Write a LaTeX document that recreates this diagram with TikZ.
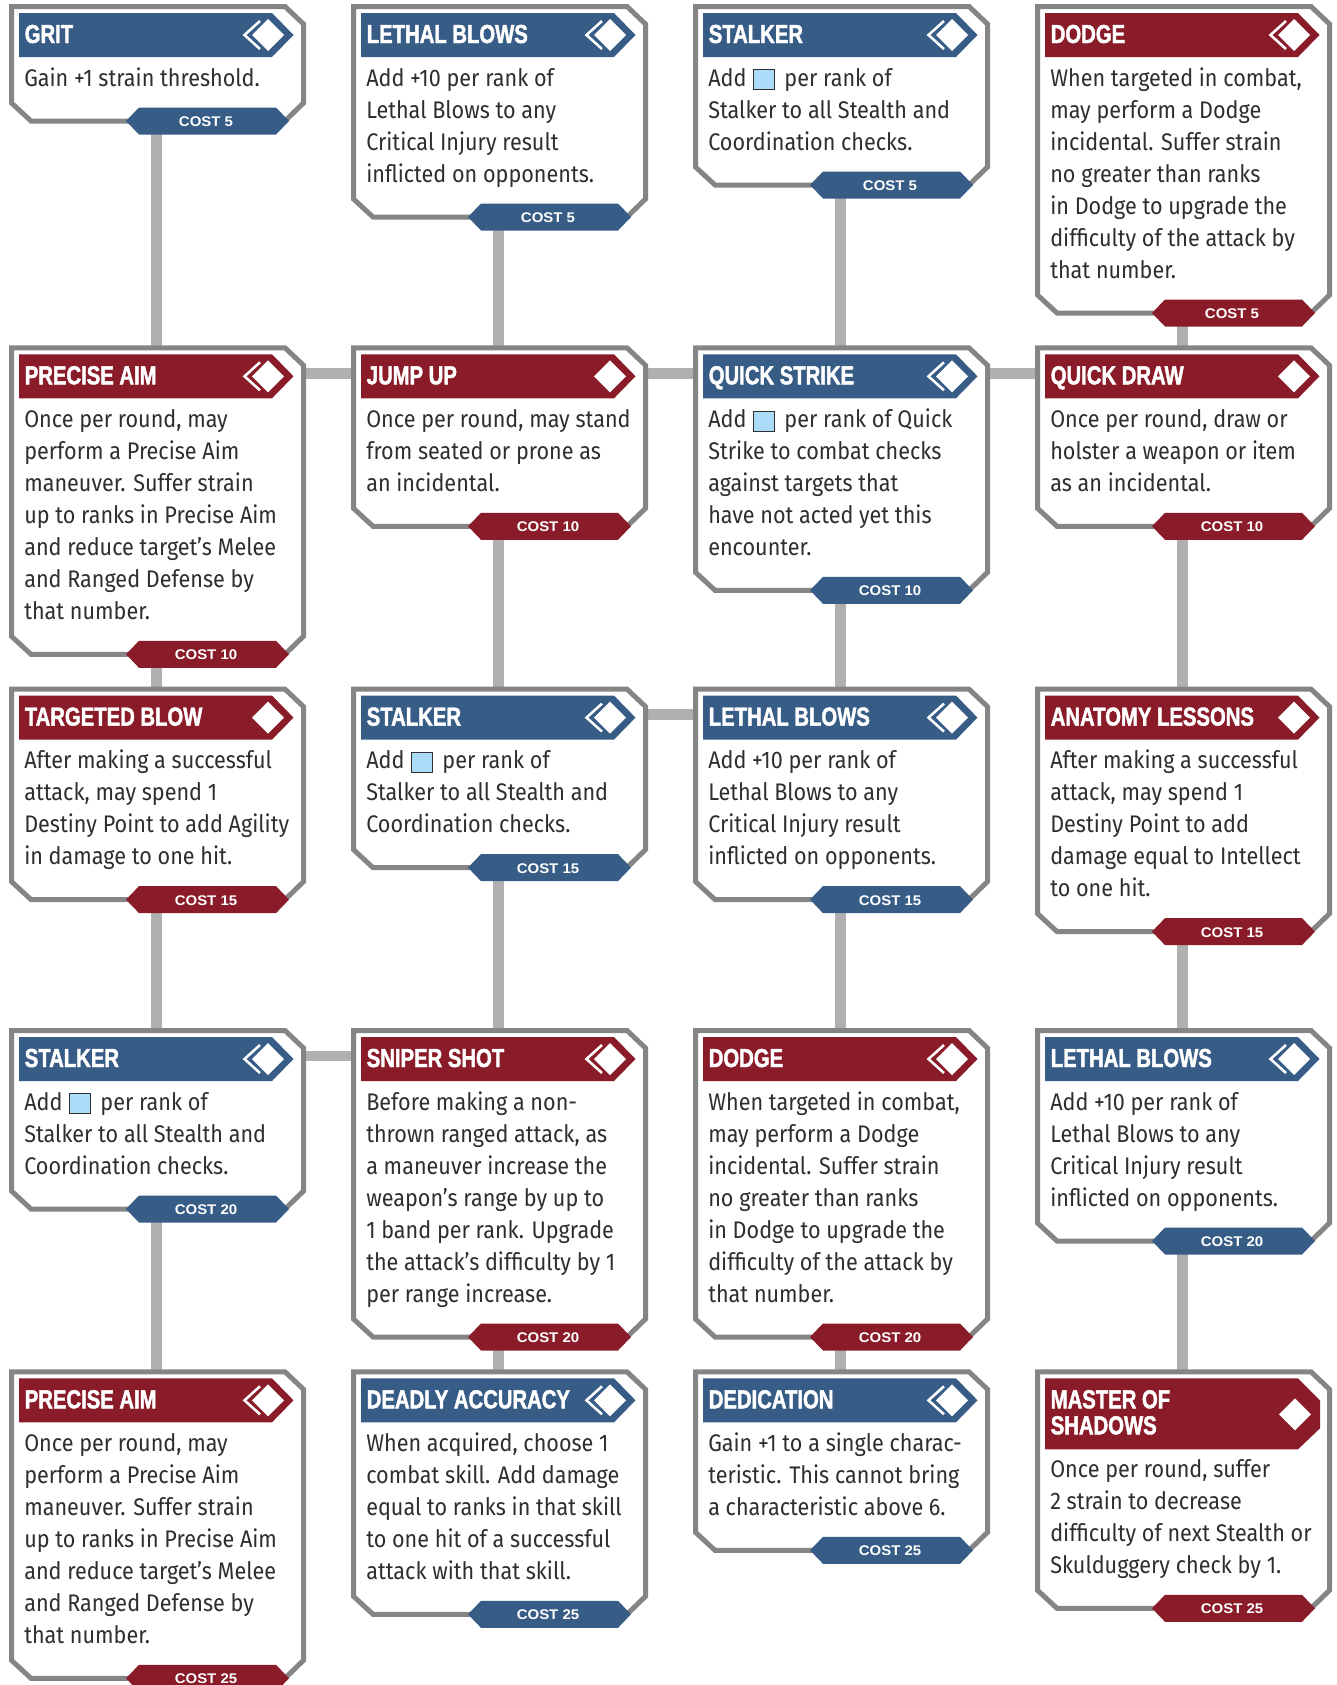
\documentclass[tikz,border=0pt]{standalone}
\usepackage{fontspec}
\usepackage{xcolor}
\usetikzlibrary{backgrounds}
\newfontfamily\bodyfont[FakeStretch=0.9]{Fira Sans}
\newfontfamily\titlefont[FakeStretch=0.78,FakeBold=1.6]{Liberation Sans}
\newfontfamily\costfont[FakeStretch=1.07]{Liberation Sans}
\definecolor{cblue}{HTML}{375C86}
\definecolor{cred}{HTML}{8A1C2A}
\definecolor{cborder}{HTML}{858585}
\definecolor{clink}{HTML}{B0B0B0}
\definecolor{ctext}{HTML}{2E2E2E}
\definecolor{cdie}{HTML}{AADCF8}
\tikzset{
  cardshape/.style={draw=cborder,fill=white,line width=3.75pt,line join=miter},
  linkline/.style={draw=clink,line width=8pt},
  titletext/.style={anchor=base west,inner sep=0pt,text=white,font=\titlefont\bfseries\fontsize{19.5}{19.5}\selectfont},
  bodytext/.style={anchor=base west,inner sep=0pt,text=ctext},
  costtext/.style={anchor=base,inner sep=0pt,text=white,font=\costfont\bfseries\fontsize{10.5}{12}\selectfont},
  hub/.style={inner sep=0pt,minimum size=0pt}
}
\newcommand{\diebox}{\hspace{4.8pt}{\fboxsep=0pt\fboxrule=.75pt\raisebox{-2.4pt}{\fcolorbox{ctext}{cdie}{\textcolor{cdie}{\rule{15pt}{14.25pt}}}}}\hspace{7.2pt}}
\newcommand{\bodylines}[1]{\bodyfont\fontsize{18}{24}\selectfont\begin{tabular}[t]{@{}l@{}}#1\end{tabular}}
% name, col x, row y, height, header colour, chevron(1/0), banner colour, cost, title; then body
\newcommand{\card}[9]{%
 \begin{scope}[shift={(#2,#3)}]
  \node[hub] (#1) at (147.5,28) {};
  \path[cardshape] (2.5,2.5) -- (276,2.5) -- (294.5,20) -- (294.5,#4-18) -- (276,#4) -- (22,#4) -- (2.5,#4-18) -- cycle;
  \fill[#5] (10,9) -- (263,9) -- (284.5,31) -- (263,53) -- (10,53) -- cycle;
  \fill[white] (259,15) -- (275,31) -- (259,47) -- (243,31) -- cycle;
  \ifnum#6=1
   \draw[white,line width=1.9pt] (251,17) -- (235.5,31) -- (251,45);
  \fi
  \node[titletext] (#1-title) at (15.5,39) {#9};
  \fill[#7] (117,#4) -- (130,#4-13.5) -- (267,#4-13.5) -- (280,#4) -- (267,#4+13.5) -- (130,#4+13.5) -- cycle;
  \node[costtext] (#1-cost) at (197,#4+5.5) {#8};
  \cardbody{#1}}
\newcommand{\cardbody}[2]{\node[bodytext] (#1-body) at (15,82) {\bodylines{#2}};
 \end{scope}}
\begin{document}
\begin{tikzpicture}[x=0.75pt,y=-0.75pt]
\useasboundingbox (0,0) rectangle (1336,1685);
% row 1
\card{a1}{9}{4}{117}{cblue}{1}{cblue}{COST 5}{GRIT}{Gain +1 strain threshold.}
\card{b1}{351}{4}{213}{cblue}{1}{cblue}{COST 5}{LETHAL BLOWS}{Add +10 per rank of\\Lethal Blows to any\\Critical Injury result\\inflicted on opponents.}
\card{c1}{693}{4}{181}{cblue}{1}{cblue}{COST 5}{STALKER}{Add\diebox per rank of\\Stalker to all Stealth and\\Coordination checks.}
\card{d1}{1035}{4}{309}{cred}{1}{cred}{COST 5}{DODGE}{When targeted in combat,\\may perform a Dodge\\incidental. Suffer strain\\no greater than ranks\\in Dodge to upgrade the\\difficulty of the attack by\\that number.}
% row 2
\card{a2}{9}{345.3}{309}{cred}{1}{cred}{COST 10}{PRECISE AIM}{Once per round, may\\perform a Precise Aim\\maneuver. Suffer strain\\up to ranks in Precise Aim\\and reduce target’s Melee\\and Ranged Defense by\\that number.}
\card{b2}{351}{345.3}{181}{cred}{0}{cred}{COST 10}{JUMP UP}{Once per round, may stand\\from seated or prone as\\an incidental.}
\card{c2}{693}{345.3}{245}{cblue}{1}{cblue}{COST 10}{QUICK STRIKE}{Add\diebox per rank of Quick\\Strike to combat checks\\against targets that\\have not acted yet this\\encounter.}
\card{d2}{1035}{345.3}{181}{cred}{0}{cred}{COST 10}{QUICK DRAW}{Once per round, draw or\\holster a weapon or item\\as an incidental.}
% row 3
\card{a3}{9}{686.6}{213}{cred}{0}{cred}{COST 15}{TARGETED BLOW}{After making a successful\\attack, may spend 1\\Destiny Point to add Agility\\in damage to one hit.}
\card{b3}{351}{686.6}{181}{cblue}{1}{cblue}{COST 15}{STALKER}{Add\diebox per rank of\\Stalker to all Stealth and\\Coordination checks.}
\card{c3}{693}{686.6}{213}{cblue}{1}{cblue}{COST 15}{LETHAL BLOWS}{Add +10 per rank of\\Lethal Blows to any\\Critical Injury result\\inflicted on opponents.}
\card{d3}{1035}{686.6}{245}{cred}{0}{cred}{COST 15}{ANATOMY LESSONS}{After making a successful\\attack, may spend 1\\Destiny Point to add\\damage equal to Intellect\\to one hit.}
% row 4
\card{a4}{9}{1028}{181}{cblue}{1}{cblue}{COST 20}{STALKER}{Add\diebox per rank of\\Stalker to all Stealth and\\Coordination checks.}
\card{b4}{351}{1028}{309}{cred}{1}{cred}{COST 20}{SNIPER SHOT}{Before making a non-\\thrown ranged attack, as\\a maneuver increase the\\weapon’s range by up to\\1 band per rank. Upgrade\\the attack’s difficulty by 1\\per range increase.}
\card{c4}{693}{1028}{309}{cred}{1}{cred}{COST 20}{DODGE}{When targeted in combat,\\may perform a Dodge\\incidental. Suffer strain\\no greater than ranks\\in Dodge to upgrade the\\difficulty of the attack by\\that number.}
\card{d4}{1035}{1028}{213}{cblue}{1}{cblue}{COST 20}{LETHAL BLOWS}{Add +10 per rank of\\Lethal Blows to any\\Critical Injury result\\inflicted on opponents.}
% row 5
\card{a5}{9}{1369.3}{309}{cred}{1}{cred}{COST 25}{PRECISE AIM}{Once per round, may\\perform a Precise Aim\\maneuver. Suffer strain\\up to ranks in Precise Aim\\and reduce target’s Melee\\and Ranged Defense by\\that number.}
\card{b5}{351}{1369.3}{245}{cblue}{1}{cblue}{COST 25}{DEADLY ACCURACY}{When acquired, choose 1\\combat skill. Add damage\\equal to ranks in that skill\\to one hit of a successful\\attack with that skill.}
\card{c5}{693}{1369.3}{181}{cblue}{1}{cblue}{COST 25}{DEDICATION}{Gain +1 to a single charac-\\teristic. This cannot bring\\a characteristic above 6.}
% Master of Shadows: taller header
\begin{scope}[shift={(1035,1369.3)}]
  \node[hub] (d5) at (147.5,28) {};
  \path[cardshape] (2.5,2.5) -- (276,2.5) -- (294.5,20) -- (294.5,239-18) -- (276,239) -- (22,239) -- (2.5,239-18) -- cycle;
  \fill[cred] (10,9) -- (263,9) -- (285,31) -- (285,59) -- (263,80) -- (10,80) -- cycle;
  \fill[white] (260,29) -- (276,45) -- (260,61) -- (244,45) -- cycle;
  \node[titletext] (d5-title) at (15.5,39) {MASTER OF};
  \node[titletext] (d5-title2) at (15.5,65) {SHADOWS};
  \fill[cred] (117,239) -- (130,225.5) -- (267,225.5) -- (280,239) -- (267,252.5) -- (130,252.5) -- cycle;
  \node[costtext] (d5-cost) at (197,244.5) {COST 25};
  \node[bodytext] (d5-body) at (15,108) {\bodylines{Once per round, suffer\\2 strain to decrease\\difficulty of next Stealth or\\Skulduggery check by 1.}};
\end{scope}
% connectors
\begin{scope}[on background layer]
\draw[linkline] (a1) -- (a2); \draw[linkline] (a2) -- (a3); \draw[linkline] (a3) -- (a4); \draw[linkline] (a4) -- (a5);
\draw[linkline] (b1) -- (b2); \draw[linkline] (b2) -- (b3); \draw[linkline] (b3) -- (b4); \draw[linkline] (b4) -- (b5);
\draw[linkline] (c1) -- (c2); \draw[linkline] (c2) -- (c3); \draw[linkline] (c3) -- (c4); \draw[linkline] (c4) -- (c5);
\draw[linkline] (d1) -- (d2); \draw[linkline] (d2) -- (d3); \draw[linkline] (d3) -- (d4); \draw[linkline] (d4) -- (d5);
\draw[linkline] (a2) -- (b2); \draw[linkline] (b2) -- (c2); \draw[linkline] (c2) -- (d2);
\draw[linkline] (b3) -- (c3);
\draw[linkline] (a4) -- (b4);
\end{scope}
\end{tikzpicture}
\end{document}
